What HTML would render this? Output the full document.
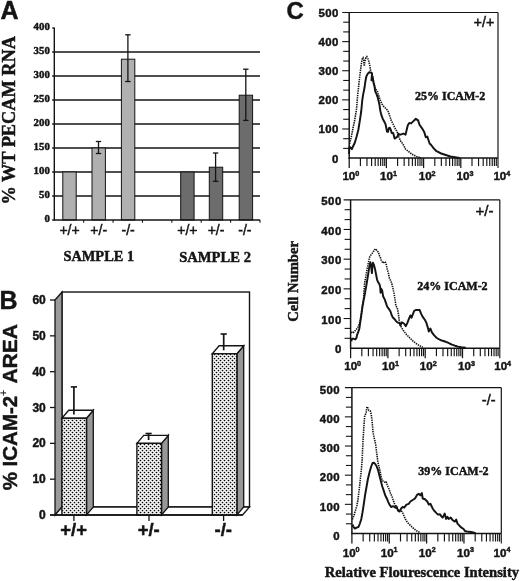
<!DOCTYPE html>
<html><head><meta charset="utf-8"><style>
html,body{margin:0;padding:0;background:#fff;}
svg{display:block;will-change:transform;}
text{stroke:#141414;stroke-width:0.45px;paint-order:stroke;}
</style></head><body>
<svg width="520" height="581" viewBox="0 0 520 581">
<rect width="520" height="581" fill="#fff"/>
<text x="0.50" y="19.00" font-family='"Liberation Sans", sans-serif' font-size="25" font-weight="bold" text-anchor="start" fill="#141414" >A</text>
<line x1="52.20" y1="196.00" x2="260.00" y2="196.00" stroke="#141414" stroke-width="1.3" />
<line x1="52.20" y1="172.00" x2="260.00" y2="172.00" stroke="#141414" stroke-width="1.3" />
<line x1="52.20" y1="148.00" x2="260.00" y2="148.00" stroke="#141414" stroke-width="1.3" />
<line x1="52.20" y1="124.00" x2="260.00" y2="124.00" stroke="#141414" stroke-width="1.3" />
<line x1="52.20" y1="100.00" x2="260.00" y2="100.00" stroke="#141414" stroke-width="1.3" />
<line x1="52.20" y1="76.00" x2="260.00" y2="76.00" stroke="#141414" stroke-width="1.3" />
<line x1="52.20" y1="52.00" x2="260.00" y2="52.00" stroke="#141414" stroke-width="1.3" />
<line x1="52.20" y1="28.00" x2="54.30" y2="28.00" stroke="#141414" stroke-width="1.3" />
<text x="49.80" y="222.40" font-family='"Liberation Serif", serif' font-size="10.8" font-weight="bold" text-anchor="end" fill="#141414" >0</text>
<text x="49.80" y="198.40" font-family='"Liberation Serif", serif' font-size="10.8" font-weight="bold" text-anchor="end" fill="#141414" >50</text>
<text x="49.80" y="174.40" font-family='"Liberation Serif", serif' font-size="10.8" font-weight="bold" text-anchor="end" fill="#141414" >100</text>
<text x="49.80" y="150.40" font-family='"Liberation Serif", serif' font-size="10.8" font-weight="bold" text-anchor="end" fill="#141414" >150</text>
<text x="49.80" y="126.40" font-family='"Liberation Serif", serif' font-size="10.8" font-weight="bold" text-anchor="end" fill="#141414" >200</text>
<text x="49.80" y="102.40" font-family='"Liberation Serif", serif' font-size="10.8" font-weight="bold" text-anchor="end" fill="#141414" >250</text>
<text x="49.80" y="78.40" font-family='"Liberation Serif", serif' font-size="10.8" font-weight="bold" text-anchor="end" fill="#141414" >300</text>
<text x="49.80" y="54.40" font-family='"Liberation Serif", serif' font-size="10.8" font-weight="bold" text-anchor="end" fill="#141414" >350</text>
<text x="49.80" y="30.40" font-family='"Liberation Serif", serif' font-size="10.8" font-weight="bold" text-anchor="end" fill="#141414" >400</text>
<rect x="62.80" y="172.00" width="13.40" height="48.00" fill="#b0b0b0" stroke="#141414" stroke-width="1.0"/>
<rect x="92.00" y="148.00" width="13.40" height="72.00" fill="#b0b0b0" stroke="#141414" stroke-width="1.0"/>
<rect x="121.40" y="59.20" width="13.40" height="160.80" fill="#b0b0b0" stroke="#141414" stroke-width="1.0"/>
<rect x="180.70" y="172.00" width="13.40" height="48.00" fill="#6c6c6c" stroke="#141414" stroke-width="1.0"/>
<rect x="209.30" y="167.20" width="13.40" height="52.80" fill="#6c6c6c" stroke="#141414" stroke-width="1.0"/>
<rect x="239.20" y="95.20" width="13.40" height="124.80" fill="#6c6c6c" stroke="#141414" stroke-width="1.0"/>
<line x1="98.50" y1="141.50" x2="98.50" y2="153.50" stroke="#141414" stroke-width="1.3" />
<line x1="95.80" y1="141.50" x2="101.20" y2="141.50" stroke="#141414" stroke-width="1.3" />
<line x1="95.80" y1="153.50" x2="101.20" y2="153.50" stroke="#141414" stroke-width="1.3" />
<line x1="127.90" y1="34.80" x2="127.90" y2="81.50" stroke="#141414" stroke-width="1.3" />
<line x1="125.20" y1="34.80" x2="130.60" y2="34.80" stroke="#141414" stroke-width="1.3" />
<line x1="125.20" y1="81.50" x2="130.60" y2="81.50" stroke="#141414" stroke-width="1.3" />
<line x1="215.60" y1="153.00" x2="215.60" y2="181.30" stroke="#141414" stroke-width="1.3" />
<line x1="212.90" y1="153.00" x2="218.30" y2="153.00" stroke="#141414" stroke-width="1.3" />
<line x1="212.90" y1="181.30" x2="218.30" y2="181.30" stroke="#141414" stroke-width="1.3" />
<line x1="245.80" y1="69.20" x2="245.80" y2="120.40" stroke="#141414" stroke-width="1.3" />
<line x1="243.10" y1="69.20" x2="248.50" y2="69.20" stroke="#141414" stroke-width="1.3" />
<line x1="243.10" y1="120.40" x2="248.50" y2="120.40" stroke="#141414" stroke-width="1.3" />
<line x1="54.30" y1="27.50" x2="54.30" y2="220.60" stroke="#141414" stroke-width="1.4" />
<line x1="52.20" y1="220.00" x2="260.00" y2="220.00" stroke="#141414" stroke-width="1.4" />
<line x1="83.69" y1="220.00" x2="83.69" y2="222.80" stroke="#141414" stroke-width="1.1" />
<line x1="113.07" y1="220.00" x2="113.07" y2="222.80" stroke="#141414" stroke-width="1.1" />
<line x1="142.46" y1="220.00" x2="142.46" y2="222.80" stroke="#141414" stroke-width="1.1" />
<line x1="171.84" y1="220.00" x2="171.84" y2="222.80" stroke="#141414" stroke-width="1.1" />
<line x1="201.23" y1="220.00" x2="201.23" y2="222.80" stroke="#141414" stroke-width="1.1" />
<line x1="230.61" y1="220.00" x2="230.61" y2="222.80" stroke="#141414" stroke-width="1.1" />
<line x1="260.00" y1="220.00" x2="260.00" y2="222.80" stroke="#141414" stroke-width="1.1" />
<text x="69.50" y="235.20" font-family='"Liberation Sans", sans-serif' font-size="14" font-weight="normal" text-anchor="middle" fill="#141414" >+/+</text>
<text x="98.70" y="235.20" font-family='"Liberation Sans", sans-serif' font-size="14" font-weight="normal" text-anchor="middle" fill="#141414" >+/-</text>
<text x="128.10" y="235.20" font-family='"Liberation Sans", sans-serif' font-size="14" font-weight="normal" text-anchor="middle" fill="#141414" >-/-</text>
<text x="187.40" y="235.20" font-family='"Liberation Sans", sans-serif' font-size="14" font-weight="normal" text-anchor="middle" fill="#141414" >+/+</text>
<text x="216.00" y="235.20" font-family='"Liberation Sans", sans-serif' font-size="14" font-weight="normal" text-anchor="middle" fill="#141414" >+/-</text>
<text x="244.90" y="235.20" font-family='"Liberation Sans", sans-serif' font-size="14" font-weight="normal" text-anchor="middle" fill="#141414" >-/-</text>
<text x="63.40" y="260.60" font-family='"Liberation Serif", serif' font-size="14.4" font-weight="bold" text-anchor="start" fill="#141414" >SAMPLE 1</text>
<text x="179.20" y="262.20" font-family='"Liberation Serif", serif' font-size="14.6" font-weight="bold" text-anchor="start" fill="#141414" >SAMPLE 2</text>
<text transform="translate(14.9,204.6) rotate(-90)" font-family='"Liberation Serif", serif' font-size="18.3" font-weight="bold" fill="#141414">% WT PECAM RNA</text>
<text x="-0.60" y="308.80" font-family='"Liberation Sans", sans-serif' font-size="25" font-weight="bold" text-anchor="start" fill="#141414" >B</text>
<rect x="62.00" y="292.02" width="187.50" height="214.98" fill="#ffffff" stroke="#141414" stroke-width="1.4"/>
<polygon points="55.00,300.02 62.00,292.02 62.00,507.00 55.00,515.00" fill="#9a9a9a" stroke="#141414" stroke-width="1.3" stroke-linejoin="miter" />
<polygon points="55.00,515.00 62.00,507.00 249.50,507.00 242.50,515.00" fill="#ffffff" stroke="#141414" stroke-width="1.3" stroke-linejoin="miter" />
<line x1="50.00" y1="515.00" x2="55.00" y2="515.00" stroke="#141414" stroke-width="1.3" />
<text x="45.80" y="519.00" font-family='"Liberation Sans", sans-serif' font-size="12" font-weight="bold" text-anchor="end" fill="#141414" >0</text>
<line x1="50.00" y1="479.17" x2="55.00" y2="479.17" stroke="#141414" stroke-width="1.3" />
<text x="45.80" y="483.17" font-family='"Liberation Sans", sans-serif' font-size="12" font-weight="bold" text-anchor="end" fill="#141414" >10</text>
<line x1="50.00" y1="443.34" x2="55.00" y2="443.34" stroke="#141414" stroke-width="1.3" />
<text x="45.80" y="447.34" font-family='"Liberation Sans", sans-serif' font-size="12" font-weight="bold" text-anchor="end" fill="#141414" >20</text>
<line x1="50.00" y1="407.51" x2="55.00" y2="407.51" stroke="#141414" stroke-width="1.3" />
<text x="45.80" y="411.51" font-family='"Liberation Sans", sans-serif' font-size="12" font-weight="bold" text-anchor="end" fill="#141414" >30</text>
<line x1="50.00" y1="371.68" x2="55.00" y2="371.68" stroke="#141414" stroke-width="1.3" />
<text x="45.80" y="375.68" font-family='"Liberation Sans", sans-serif' font-size="12" font-weight="bold" text-anchor="end" fill="#141414" >40</text>
<line x1="50.00" y1="335.85" x2="55.00" y2="335.85" stroke="#141414" stroke-width="1.3" />
<text x="45.80" y="339.85" font-family='"Liberation Sans", sans-serif' font-size="12" font-weight="bold" text-anchor="end" fill="#141414" >50</text>
<line x1="50.00" y1="300.02" x2="55.00" y2="300.02" stroke="#141414" stroke-width="1.3" />
<text x="45.80" y="304.02" font-family='"Liberation Sans", sans-serif' font-size="12" font-weight="bold" text-anchor="end" fill="#141414" >60</text>
<defs><pattern id="dots" x="0" y="0" width="4" height="4" patternUnits="userSpaceOnUse"><rect width="4" height="4" fill="#fff"/><circle cx="0.5" cy="0.5" r="0.85" fill="#000"/><circle cx="2.5" cy="2.5" r="0.85" fill="#000"/><circle cx="4.5" cy="0.5" r="0.85" fill="#000"/><circle cx="0.5" cy="4.5" r="0.85" fill="#000"/><circle cx="4.5" cy="4.5" r="0.85" fill="#000"/></pattern></defs>
<polygon points="86.50,418.26 93.30,410.26 93.30,507.00 86.50,515.00" fill="#979797" stroke="#141414" stroke-width="1.3" stroke-linejoin="miter" />
<polygon points="61.90,418.26 68.70,410.26 93.30,410.26 86.50,418.26" fill="#ffffff" stroke="#141414" stroke-width="1.3" stroke-linejoin="miter" />
<rect x="61.90" y="418.26" width="24.60" height="96.74" fill="url(#dots)" stroke="#141414" stroke-width="1.4"/>
<polygon points="161.50,443.34 168.30,435.34 168.30,507.00 161.50,515.00" fill="#979797" stroke="#141414" stroke-width="1.3" stroke-linejoin="miter" />
<polygon points="136.90,443.34 143.70,435.34 168.30,435.34 161.50,443.34" fill="#ffffff" stroke="#141414" stroke-width="1.3" stroke-linejoin="miter" />
<rect x="136.90" y="443.34" width="24.60" height="71.66" fill="url(#dots)" stroke="#141414" stroke-width="1.4"/>
<polygon points="236.90,353.76 243.70,345.76 243.70,507.00 236.90,515.00" fill="#979797" stroke="#141414" stroke-width="1.3" stroke-linejoin="miter" />
<polygon points="212.30,353.76 219.10,345.76 243.70,345.76 236.90,353.76" fill="#ffffff" stroke="#141414" stroke-width="1.3" stroke-linejoin="miter" />
<rect x="212.30" y="353.76" width="24.60" height="161.24" fill="url(#dots)" stroke="#141414" stroke-width="1.4"/>
<line x1="73.90" y1="386.90" x2="73.90" y2="414.60" stroke="#141414" stroke-width="1.7" />
<line x1="70.80" y1="386.90" x2="77.00" y2="386.90" stroke="#141414" stroke-width="1.6" />
<line x1="148.60" y1="433.50" x2="148.60" y2="440.00" stroke="#141414" stroke-width="1.7" />
<line x1="145.50" y1="433.50" x2="151.70" y2="433.50" stroke="#141414" stroke-width="1.6" />
<line x1="223.70" y1="334.00" x2="223.70" y2="350.30" stroke="#141414" stroke-width="1.7" />
<line x1="220.60" y1="334.00" x2="226.80" y2="334.00" stroke="#141414" stroke-width="1.6" />
<line x1="50.00" y1="515.00" x2="242.50" y2="515.00" stroke="#141414" stroke-width="1.4" />
<line x1="73.90" y1="515.00" x2="73.90" y2="521.00" stroke="#141414" stroke-width="1.3" />
<text x="73.60" y="536.40" font-family='"Liberation Sans", sans-serif' font-size="18.5" font-weight="bold" text-anchor="middle" fill="#141414" >+/+</text>
<line x1="149.00" y1="515.00" x2="149.00" y2="521.00" stroke="#141414" stroke-width="1.3" />
<text x="148.70" y="536.40" font-family='"Liberation Sans", sans-serif' font-size="18.5" font-weight="bold" text-anchor="middle" fill="#141414" >+/-</text>
<line x1="223.60" y1="515.00" x2="223.60" y2="521.00" stroke="#141414" stroke-width="1.3" />
<text x="223.30" y="536.40" font-family='"Liberation Sans", sans-serif' font-size="18.5" font-weight="bold" text-anchor="middle" fill="#141414" >-/-</text>
<text transform="translate(17.4,490.3) rotate(-90)" font-family='"Liberation Sans", sans-serif' font-size="20.5" font-weight="bold" fill="#141414">% ICAM-2</text>
<text transform="translate(6.9,396.0) rotate(-90)" font-family='"Liberation Sans", sans-serif' font-size="10.5" font-weight="normal" fill="#141414" style="stroke-width:0.2px">+</text>
<text transform="translate(17.4,383.6) rotate(-90)" font-family='"Liberation Sans", sans-serif' font-size="21" font-weight="bold" fill="#141414">AREA</text>
<text x="286.50" y="19.20" font-family='"Liberation Sans", sans-serif' font-size="24" font-weight="bold" text-anchor="start" fill="#141414" >C</text>
<line x1="342.20" y1="12.50" x2="498.00" y2="12.50" stroke="#141414" stroke-width="1.2" />
<line x1="498.00" y1="12.50" x2="498.00" y2="158.10" stroke="#141414" stroke-width="1.2" />
<line x1="349.20" y1="12.50" x2="349.20" y2="158.70" stroke="#141414" stroke-width="1.5" />
<line x1="348.60" y1="158.10" x2="498.00" y2="158.10" stroke="#141414" stroke-width="1.5" />
<text x="338.90" y="162.50" font-family='"Liberation Sans", sans-serif' font-size="11.4" font-weight="bold" text-anchor="end" fill="#141414" letter-spacing="0.45">0</text>
<line x1="343.20" y1="148.39" x2="349.20" y2="148.39" stroke="#141414" stroke-width="1.1" />
<line x1="343.20" y1="138.69" x2="349.20" y2="138.69" stroke="#141414" stroke-width="1.1" />
<line x1="342.20" y1="128.98" x2="349.20" y2="128.98" stroke="#141414" stroke-width="1.1" />
<text x="338.90" y="133.38" font-family='"Liberation Sans", sans-serif' font-size="11.4" font-weight="bold" text-anchor="end" fill="#141414" letter-spacing="0.45">100</text>
<line x1="343.20" y1="119.27" x2="349.20" y2="119.27" stroke="#141414" stroke-width="1.1" />
<line x1="343.20" y1="109.57" x2="349.20" y2="109.57" stroke="#141414" stroke-width="1.1" />
<line x1="342.20" y1="99.86" x2="349.20" y2="99.86" stroke="#141414" stroke-width="1.1" />
<text x="338.90" y="104.26" font-family='"Liberation Sans", sans-serif' font-size="11.4" font-weight="bold" text-anchor="end" fill="#141414" letter-spacing="0.45">200</text>
<line x1="343.20" y1="90.15" x2="349.20" y2="90.15" stroke="#141414" stroke-width="1.1" />
<line x1="343.20" y1="80.45" x2="349.20" y2="80.45" stroke="#141414" stroke-width="1.1" />
<line x1="342.20" y1="70.74" x2="349.20" y2="70.74" stroke="#141414" stroke-width="1.1" />
<text x="338.90" y="75.14" font-family='"Liberation Sans", sans-serif' font-size="11.4" font-weight="bold" text-anchor="end" fill="#141414" letter-spacing="0.45">300</text>
<line x1="343.20" y1="61.03" x2="349.20" y2="61.03" stroke="#141414" stroke-width="1.1" />
<line x1="343.20" y1="51.33" x2="349.20" y2="51.33" stroke="#141414" stroke-width="1.1" />
<line x1="342.20" y1="41.62" x2="349.20" y2="41.62" stroke="#141414" stroke-width="1.1" />
<text x="338.90" y="46.02" font-family='"Liberation Sans", sans-serif' font-size="11.4" font-weight="bold" text-anchor="end" fill="#141414" letter-spacing="0.45">400</text>
<line x1="343.20" y1="31.91" x2="349.20" y2="31.91" stroke="#141414" stroke-width="1.1" />
<line x1="343.20" y1="22.21" x2="349.20" y2="22.21" stroke="#141414" stroke-width="1.1" />
<text x="338.90" y="16.90" font-family='"Liberation Sans", sans-serif' font-size="11.4" font-weight="bold" text-anchor="end" fill="#141414" letter-spacing="0.45">500</text>
<line x1="349.20" y1="158.10" x2="349.20" y2="168.10" stroke="#141414" stroke-width="1.25" />
<line x1="360.40" y1="158.10" x2="360.40" y2="166.10" stroke="#141414" stroke-width="1.15" />
<line x1="366.95" y1="158.10" x2="366.95" y2="166.10" stroke="#141414" stroke-width="1.15" />
<line x1="371.60" y1="158.10" x2="371.60" y2="166.10" stroke="#141414" stroke-width="1.15" />
<line x1="375.20" y1="158.10" x2="375.20" y2="166.10" stroke="#141414" stroke-width="1.15" />
<line x1="378.15" y1="158.10" x2="378.15" y2="166.10" stroke="#141414" stroke-width="1.15" />
<line x1="380.64" y1="158.10" x2="380.64" y2="166.10" stroke="#141414" stroke-width="1.15" />
<line x1="382.79" y1="158.10" x2="382.79" y2="166.10" stroke="#141414" stroke-width="1.15" />
<line x1="384.70" y1="158.10" x2="384.70" y2="166.10" stroke="#141414" stroke-width="1.15" />
<line x1="386.40" y1="158.10" x2="386.40" y2="168.10" stroke="#141414" stroke-width="1.25" />
<line x1="397.60" y1="158.10" x2="397.60" y2="166.10" stroke="#141414" stroke-width="1.15" />
<line x1="404.15" y1="158.10" x2="404.15" y2="166.10" stroke="#141414" stroke-width="1.15" />
<line x1="408.80" y1="158.10" x2="408.80" y2="166.10" stroke="#141414" stroke-width="1.15" />
<line x1="412.40" y1="158.10" x2="412.40" y2="166.10" stroke="#141414" stroke-width="1.15" />
<line x1="415.35" y1="158.10" x2="415.35" y2="166.10" stroke="#141414" stroke-width="1.15" />
<line x1="417.84" y1="158.10" x2="417.84" y2="166.10" stroke="#141414" stroke-width="1.15" />
<line x1="419.99" y1="158.10" x2="419.99" y2="166.10" stroke="#141414" stroke-width="1.15" />
<line x1="421.90" y1="158.10" x2="421.90" y2="166.10" stroke="#141414" stroke-width="1.15" />
<line x1="423.60" y1="158.10" x2="423.60" y2="168.10" stroke="#141414" stroke-width="1.25" />
<line x1="434.80" y1="158.10" x2="434.80" y2="166.10" stroke="#141414" stroke-width="1.15" />
<line x1="441.35" y1="158.10" x2="441.35" y2="166.10" stroke="#141414" stroke-width="1.15" />
<line x1="446.00" y1="158.10" x2="446.00" y2="166.10" stroke="#141414" stroke-width="1.15" />
<line x1="449.60" y1="158.10" x2="449.60" y2="166.10" stroke="#141414" stroke-width="1.15" />
<line x1="452.55" y1="158.10" x2="452.55" y2="166.10" stroke="#141414" stroke-width="1.15" />
<line x1="455.04" y1="158.10" x2="455.04" y2="166.10" stroke="#141414" stroke-width="1.15" />
<line x1="457.19" y1="158.10" x2="457.19" y2="166.10" stroke="#141414" stroke-width="1.15" />
<line x1="459.10" y1="158.10" x2="459.10" y2="166.10" stroke="#141414" stroke-width="1.15" />
<line x1="460.80" y1="158.10" x2="460.80" y2="168.10" stroke="#141414" stroke-width="1.25" />
<line x1="472.00" y1="158.10" x2="472.00" y2="166.10" stroke="#141414" stroke-width="1.15" />
<line x1="478.55" y1="158.10" x2="478.55" y2="166.10" stroke="#141414" stroke-width="1.15" />
<line x1="483.20" y1="158.10" x2="483.20" y2="166.10" stroke="#141414" stroke-width="1.15" />
<line x1="486.80" y1="158.10" x2="486.80" y2="166.10" stroke="#141414" stroke-width="1.15" />
<line x1="489.75" y1="158.10" x2="489.75" y2="166.10" stroke="#141414" stroke-width="1.15" />
<line x1="492.24" y1="158.10" x2="492.24" y2="166.10" stroke="#141414" stroke-width="1.15" />
<line x1="494.39" y1="158.10" x2="494.39" y2="166.10" stroke="#141414" stroke-width="1.15" />
<line x1="496.30" y1="158.10" x2="496.30" y2="166.10" stroke="#141414" stroke-width="1.15" />
<line x1="498.00" y1="158.10" x2="498.00" y2="168.10" stroke="#141414" stroke-width="1.1" />
<text x="342.40" y="180.40" font-family='"Liberation Sans", sans-serif' font-size="11.6" font-weight="bold" fill="#141414">10<tspan dy="-4.3" font-size="7.2">0</tspan></text>
<text x="380.10" y="180.40" font-family='"Liberation Sans", sans-serif' font-size="11.6" font-weight="bold" fill="#141414">10<tspan dy="-4.3" font-size="7.2">1</tspan></text>
<text x="418.70" y="180.40" font-family='"Liberation Sans", sans-serif' font-size="11.6" font-weight="bold" fill="#141414">10<tspan dy="-4.3" font-size="7.2">2</tspan></text>
<text x="456.60" y="180.40" font-family='"Liberation Sans", sans-serif' font-size="11.6" font-weight="bold" fill="#141414">10<tspan dy="-4.3" font-size="7.2">3</tspan></text>
<text x="493.40" y="180.40" font-family='"Liberation Sans", sans-serif' font-size="11.6" font-weight="bold" fill="#141414">10<tspan dy="-4.3" font-size="7.2">4</tspan></text>
<text x="494.50" y="27.00" font-family='"Liberation Sans", sans-serif' font-size="14.5" font-weight="normal" text-anchor="end" fill="#141414" >+/+</text>
<text x="415.00" y="99.60" font-family='"Liberation Serif", serif' font-size="12" font-weight="bold" text-anchor="start" fill="#141414" >25% ICAM-2</text>
<polyline points="349.6,143.8 351.3,136.9 353.1,127.7 354.8,119.6 356.5,109.2 357.8,93.5 358.8,85.0 359.7,76.5 360.7,68.9 361.6,62.3 362.4,58.0 363.0,57.6 363.7,60.4 364.3,66.1 364.9,61.3 365.9,57.6 366.8,56.6 367.8,58.5 369.0,61.8 369.9,66.1 370.6,70.8 372.3,75.7 374.3,84.7 375.3,88.8 377.2,90.7 379.4,97.8 380.8,101.6 382.3,104.5 383.7,106.4 385.6,108.3 387.0,109.7 388.4,112.0 389.4,114.9 390.3,117.7 391.3,120.6 392.7,123.4 394.1,126.3 395.5,129.1 396.9,131.5 397.9,133.8 398.8,136.7 400.3,140.5 401.7,142.3 403.6,145.2 405.5,149.0 408.1,151.2 411.9,154.2 416.5,156.5 421.2,158.0" fill="none" stroke="#141414" stroke-width="1.6" stroke-dasharray="1.4 0.9"/>
<polyline points="349.0,154.0 349.4,147.0 350.2,147.3 351.9,149.0 353.1,146.2 354.8,142.7 356.5,136.9 358.3,130.0 359.8,120.8 361.2,111.5 362.3,100.0 363.0,95.4 364.5,87.8 365.4,81.2 366.3,76.5 367.8,73.6 369.2,72.2 370.6,72.7 372.0,73.2 371.5,80.3 372.5,76.5 373.4,82.2 374.4,85.9 375.3,91.6 376.3,93.5 377.7,97.3 378.6,101.1 379.4,104.5 380.4,111.1 381.3,114.9 382.7,118.7 384.2,121.5 385.6,124.4 387.0,131.5 387.9,131.9 388.9,128.1 389.8,127.7 390.8,130.0 391.7,132.9 393.2,132.9 394.6,138.6 396.0,137.6 397.4,136.7 398.4,133.8 399.8,134.8 401.2,134.3 402.6,133.8 404.0,133.8 405.5,134.8 406.4,131.0 407.8,125.3 409.3,122.9 411.1,123.4 414.2,120.4 415.8,118.8 418.1,120.4 419.6,125.0 421.9,128.1 424.2,131.9 425.8,137.3 427.3,136.5 429.6,143.5 431.2,145.0 433.5,148.1 436.5,151.2 441.2,153.5 445.8,155.0 450.4,156.5 455.0,157.3 459.6,158.0" fill="none" stroke="#141414" stroke-width="1.95" stroke-linejoin="round"/>
<line x1="343.60" y1="199.80" x2="499.80" y2="199.80" stroke="#141414" stroke-width="1.2" />
<line x1="499.80" y1="199.80" x2="499.80" y2="348.20" stroke="#141414" stroke-width="1.2" />
<line x1="350.60" y1="199.80" x2="350.60" y2="348.80" stroke="#141414" stroke-width="1.5" />
<line x1="350.00" y1="348.20" x2="499.80" y2="348.20" stroke="#141414" stroke-width="1.5" />
<text x="341.70" y="353.40" font-family='"Liberation Sans", sans-serif' font-size="11.4" font-weight="bold" text-anchor="end" fill="#141414" letter-spacing="0.45">0</text>
<line x1="344.60" y1="338.31" x2="350.60" y2="338.31" stroke="#141414" stroke-width="1.1" />
<line x1="344.60" y1="328.41" x2="350.60" y2="328.41" stroke="#141414" stroke-width="1.1" />
<line x1="343.60" y1="318.52" x2="350.60" y2="318.52" stroke="#141414" stroke-width="1.1" />
<text x="341.70" y="323.72" font-family='"Liberation Sans", sans-serif' font-size="11.4" font-weight="bold" text-anchor="end" fill="#141414" letter-spacing="0.45">100</text>
<line x1="344.60" y1="308.63" x2="350.60" y2="308.63" stroke="#141414" stroke-width="1.1" />
<line x1="344.60" y1="298.73" x2="350.60" y2="298.73" stroke="#141414" stroke-width="1.1" />
<line x1="343.60" y1="288.84" x2="350.60" y2="288.84" stroke="#141414" stroke-width="1.1" />
<text x="341.70" y="294.04" font-family='"Liberation Sans", sans-serif' font-size="11.4" font-weight="bold" text-anchor="end" fill="#141414" letter-spacing="0.45">200</text>
<line x1="344.60" y1="278.95" x2="350.60" y2="278.95" stroke="#141414" stroke-width="1.1" />
<line x1="344.60" y1="269.05" x2="350.60" y2="269.05" stroke="#141414" stroke-width="1.1" />
<line x1="343.60" y1="259.16" x2="350.60" y2="259.16" stroke="#141414" stroke-width="1.1" />
<text x="341.70" y="264.36" font-family='"Liberation Sans", sans-serif' font-size="11.4" font-weight="bold" text-anchor="end" fill="#141414" letter-spacing="0.45">300</text>
<line x1="344.60" y1="249.27" x2="350.60" y2="249.27" stroke="#141414" stroke-width="1.1" />
<line x1="344.60" y1="239.37" x2="350.60" y2="239.37" stroke="#141414" stroke-width="1.1" />
<line x1="343.60" y1="229.48" x2="350.60" y2="229.48" stroke="#141414" stroke-width="1.1" />
<text x="341.70" y="234.68" font-family='"Liberation Sans", sans-serif' font-size="11.4" font-weight="bold" text-anchor="end" fill="#141414" letter-spacing="0.45">400</text>
<line x1="344.60" y1="219.59" x2="350.60" y2="219.59" stroke="#141414" stroke-width="1.1" />
<line x1="344.60" y1="209.69" x2="350.60" y2="209.69" stroke="#141414" stroke-width="1.1" />
<text x="341.70" y="205.00" font-family='"Liberation Sans", sans-serif' font-size="11.4" font-weight="bold" text-anchor="end" fill="#141414" letter-spacing="0.45">500</text>
<line x1="350.60" y1="348.20" x2="350.60" y2="358.20" stroke="#141414" stroke-width="1.25" />
<line x1="361.83" y1="348.20" x2="361.83" y2="356.20" stroke="#141414" stroke-width="1.15" />
<line x1="368.40" y1="348.20" x2="368.40" y2="356.20" stroke="#141414" stroke-width="1.15" />
<line x1="373.06" y1="348.20" x2="373.06" y2="356.20" stroke="#141414" stroke-width="1.15" />
<line x1="376.67" y1="348.20" x2="376.67" y2="356.20" stroke="#141414" stroke-width="1.15" />
<line x1="379.63" y1="348.20" x2="379.63" y2="356.20" stroke="#141414" stroke-width="1.15" />
<line x1="382.12" y1="348.20" x2="382.12" y2="356.20" stroke="#141414" stroke-width="1.15" />
<line x1="384.29" y1="348.20" x2="384.29" y2="356.20" stroke="#141414" stroke-width="1.15" />
<line x1="386.19" y1="348.20" x2="386.19" y2="356.20" stroke="#141414" stroke-width="1.15" />
<line x1="387.90" y1="348.20" x2="387.90" y2="358.20" stroke="#141414" stroke-width="1.25" />
<line x1="399.13" y1="348.20" x2="399.13" y2="356.20" stroke="#141414" stroke-width="1.15" />
<line x1="405.70" y1="348.20" x2="405.70" y2="356.20" stroke="#141414" stroke-width="1.15" />
<line x1="410.36" y1="348.20" x2="410.36" y2="356.20" stroke="#141414" stroke-width="1.15" />
<line x1="413.97" y1="348.20" x2="413.97" y2="356.20" stroke="#141414" stroke-width="1.15" />
<line x1="416.93" y1="348.20" x2="416.93" y2="356.20" stroke="#141414" stroke-width="1.15" />
<line x1="419.42" y1="348.20" x2="419.42" y2="356.20" stroke="#141414" stroke-width="1.15" />
<line x1="421.59" y1="348.20" x2="421.59" y2="356.20" stroke="#141414" stroke-width="1.15" />
<line x1="423.49" y1="348.20" x2="423.49" y2="356.20" stroke="#141414" stroke-width="1.15" />
<line x1="425.20" y1="348.20" x2="425.20" y2="358.20" stroke="#141414" stroke-width="1.25" />
<line x1="436.43" y1="348.20" x2="436.43" y2="356.20" stroke="#141414" stroke-width="1.15" />
<line x1="443.00" y1="348.20" x2="443.00" y2="356.20" stroke="#141414" stroke-width="1.15" />
<line x1="447.66" y1="348.20" x2="447.66" y2="356.20" stroke="#141414" stroke-width="1.15" />
<line x1="451.27" y1="348.20" x2="451.27" y2="356.20" stroke="#141414" stroke-width="1.15" />
<line x1="454.23" y1="348.20" x2="454.23" y2="356.20" stroke="#141414" stroke-width="1.15" />
<line x1="456.72" y1="348.20" x2="456.72" y2="356.20" stroke="#141414" stroke-width="1.15" />
<line x1="458.89" y1="348.20" x2="458.89" y2="356.20" stroke="#141414" stroke-width="1.15" />
<line x1="460.79" y1="348.20" x2="460.79" y2="356.20" stroke="#141414" stroke-width="1.15" />
<line x1="462.50" y1="348.20" x2="462.50" y2="358.20" stroke="#141414" stroke-width="1.25" />
<line x1="473.73" y1="348.20" x2="473.73" y2="356.20" stroke="#141414" stroke-width="1.15" />
<line x1="480.30" y1="348.20" x2="480.30" y2="356.20" stroke="#141414" stroke-width="1.15" />
<line x1="484.96" y1="348.20" x2="484.96" y2="356.20" stroke="#141414" stroke-width="1.15" />
<line x1="488.57" y1="348.20" x2="488.57" y2="356.20" stroke="#141414" stroke-width="1.15" />
<line x1="491.53" y1="348.20" x2="491.53" y2="356.20" stroke="#141414" stroke-width="1.15" />
<line x1="494.02" y1="348.20" x2="494.02" y2="356.20" stroke="#141414" stroke-width="1.15" />
<line x1="496.19" y1="348.20" x2="496.19" y2="356.20" stroke="#141414" stroke-width="1.15" />
<line x1="498.09" y1="348.20" x2="498.09" y2="356.20" stroke="#141414" stroke-width="1.15" />
<line x1="499.80" y1="348.20" x2="499.80" y2="358.20" stroke="#141414" stroke-width="1.1" />
<text x="344.20" y="370.00" font-family='"Liberation Sans", sans-serif' font-size="11.6" font-weight="bold" fill="#141414">10<tspan dy="-4.3" font-size="7.2">0</tspan></text>
<text x="382.10" y="370.00" font-family='"Liberation Sans", sans-serif' font-size="11.6" font-weight="bold" fill="#141414">10<tspan dy="-4.3" font-size="7.2">1</tspan></text>
<text x="419.80" y="370.00" font-family='"Liberation Sans", sans-serif' font-size="11.6" font-weight="bold" fill="#141414">10<tspan dy="-4.3" font-size="7.2">2</tspan></text>
<text x="458.10" y="370.00" font-family='"Liberation Sans", sans-serif' font-size="11.6" font-weight="bold" fill="#141414">10<tspan dy="-4.3" font-size="7.2">3</tspan></text>
<text x="494.20" y="370.00" font-family='"Liberation Sans", sans-serif' font-size="11.6" font-weight="bold" fill="#141414">10<tspan dy="-4.3" font-size="7.2">4</tspan></text>
<text x="493.60" y="216.30" font-family='"Liberation Sans", sans-serif' font-size="15.2" font-weight="normal" text-anchor="end" fill="#141414" >+/-</text>
<text x="417.30" y="290.00" font-family='"Liberation Serif", serif' font-size="12" font-weight="bold" text-anchor="start" fill="#141414" >24% ICAM-2</text>
<polyline points="351.3,331.9 352.5,333.1 354.2,331.9 356.0,329.6 357.7,327.9 358.8,325.0 360.0,321.5 361.2,314.6 362.3,306.5 363.5,299.6 364.1,289.6 364.6,283.4 365.7,277.2 366.7,271.0 367.7,265.8 368.8,260.7 369.8,256.5 371.3,254.5 372.9,252.4 374.4,249.8 375.5,248.8 377.0,250.8 378.6,252.4 379.6,256.0 380.6,258.1 381.2,260.1 382.2,261.7 383.2,263.2 384.3,261.7 385.3,262.2 386.3,264.8 387.4,270.0 388.4,273.1 389.4,278.2 391.0,281.3 392.0,284.4 393.0,288.6 394.1,293.7 395.2,300.8 395.8,305.4 397.5,308.8 398.4,314.0 399.3,320.8 401.2,326.9 403.5,330.8 406.5,334.6 409.6,337.7 412.7,340.8 416.5,343.8 419.6,345.7 422.7,347.2" fill="none" stroke="#141414" stroke-width="1.6" stroke-dasharray="1.4 0.9"/>
<polyline points="351.3,341.2 351.9,338.8 353.7,338.8 355.4,339.4 356.5,337.7 357.1,334.8 358.3,331.9 359.4,328.5 360.0,323.8 360.9,318.1 361.7,312.3 362.5,306.5 363.5,300.8 365.1,292.7 366.7,283.4 368.2,274.1 369.3,266.9 370.3,262.2 371.3,267.4 371.9,273.1 372.4,265.8 372.9,262.7 373.9,264.8 375.0,268.9 376.0,274.1 377.0,279.3 378.1,282.4 379.1,283.4 380.1,286.5 380.6,292.7 381.2,288.6 382.2,290.6 383.1,296.2 384.8,299.6 386.0,303.1 387.1,306.5 388.8,308.8 390.6,311.7 391.7,315.2 392.9,317.5 394.6,319.2 396.3,321.5 398.1,322.7 399.6,323.1 400.4,325.4 401.9,322.3 404.2,323.8 405.8,326.2 407.3,323.1 408.8,319.2 410.4,315.4 411.6,317.7 412.7,314.6 414.2,310.8 415.8,310.0 418.1,310.0 419.6,310.0 421.2,313.8 422.7,316.9 425.0,320.0 426.5,323.1 428.1,328.5 428.8,331.5 430.4,328.5 431.9,332.3 434.2,335.4 436.5,337.7 438.8,339.2 440.4,340.0 442.7,340.8 445.0,341.5 447.3,342.3 449.6,343.5 451.9,344.6 455.0,345.7 458.1,346.6 461.2,347.2 465.8,347.7" fill="none" stroke="#141414" stroke-width="1.95" stroke-linejoin="round"/>
<line x1="344.90" y1="387.70" x2="501.30" y2="387.70" stroke="#141414" stroke-width="1.2" />
<line x1="501.30" y1="387.70" x2="501.30" y2="533.50" stroke="#141414" stroke-width="1.2" />
<line x1="351.90" y1="387.70" x2="351.90" y2="534.10" stroke="#141414" stroke-width="1.5" />
<line x1="351.30" y1="533.50" x2="501.30" y2="533.50" stroke="#141414" stroke-width="1.5" />
<text x="340.00" y="539.70" font-family='"Liberation Sans", sans-serif' font-size="11.4" font-weight="bold" text-anchor="end" fill="#141414" letter-spacing="0.45">0</text>
<line x1="345.90" y1="523.78" x2="351.90" y2="523.78" stroke="#141414" stroke-width="1.1" />
<line x1="345.90" y1="514.06" x2="351.90" y2="514.06" stroke="#141414" stroke-width="1.1" />
<line x1="344.90" y1="504.34" x2="351.90" y2="504.34" stroke="#141414" stroke-width="1.1" />
<text x="340.00" y="510.54" font-family='"Liberation Sans", sans-serif' font-size="11.4" font-weight="bold" text-anchor="end" fill="#141414" letter-spacing="0.45">100</text>
<line x1="345.90" y1="494.62" x2="351.90" y2="494.62" stroke="#141414" stroke-width="1.1" />
<line x1="345.90" y1="484.90" x2="351.90" y2="484.90" stroke="#141414" stroke-width="1.1" />
<line x1="344.90" y1="475.18" x2="351.90" y2="475.18" stroke="#141414" stroke-width="1.1" />
<text x="340.00" y="481.38" font-family='"Liberation Sans", sans-serif' font-size="11.4" font-weight="bold" text-anchor="end" fill="#141414" letter-spacing="0.45">200</text>
<line x1="345.90" y1="465.46" x2="351.90" y2="465.46" stroke="#141414" stroke-width="1.1" />
<line x1="345.90" y1="455.74" x2="351.90" y2="455.74" stroke="#141414" stroke-width="1.1" />
<line x1="344.90" y1="446.02" x2="351.90" y2="446.02" stroke="#141414" stroke-width="1.1" />
<text x="340.00" y="452.22" font-family='"Liberation Sans", sans-serif' font-size="11.4" font-weight="bold" text-anchor="end" fill="#141414" letter-spacing="0.45">300</text>
<line x1="345.90" y1="436.30" x2="351.90" y2="436.30" stroke="#141414" stroke-width="1.1" />
<line x1="345.90" y1="426.58" x2="351.90" y2="426.58" stroke="#141414" stroke-width="1.1" />
<line x1="344.90" y1="416.86" x2="351.90" y2="416.86" stroke="#141414" stroke-width="1.1" />
<text x="340.00" y="423.06" font-family='"Liberation Sans", sans-serif' font-size="11.4" font-weight="bold" text-anchor="end" fill="#141414" letter-spacing="0.45">400</text>
<line x1="345.90" y1="407.14" x2="351.90" y2="407.14" stroke="#141414" stroke-width="1.1" />
<line x1="345.90" y1="397.42" x2="351.90" y2="397.42" stroke="#141414" stroke-width="1.1" />
<text x="340.00" y="393.90" font-family='"Liberation Sans", sans-serif' font-size="11.4" font-weight="bold" text-anchor="end" fill="#141414" letter-spacing="0.45">500</text>
<line x1="351.90" y1="533.50" x2="351.90" y2="543.50" stroke="#141414" stroke-width="1.25" />
<line x1="363.14" y1="533.50" x2="363.14" y2="541.50" stroke="#141414" stroke-width="1.15" />
<line x1="369.72" y1="533.50" x2="369.72" y2="541.50" stroke="#141414" stroke-width="1.15" />
<line x1="374.39" y1="533.50" x2="374.39" y2="541.50" stroke="#141414" stroke-width="1.15" />
<line x1="378.01" y1="533.50" x2="378.01" y2="541.50" stroke="#141414" stroke-width="1.15" />
<line x1="380.96" y1="533.50" x2="380.96" y2="541.50" stroke="#141414" stroke-width="1.15" />
<line x1="383.46" y1="533.50" x2="383.46" y2="541.50" stroke="#141414" stroke-width="1.15" />
<line x1="385.63" y1="533.50" x2="385.63" y2="541.50" stroke="#141414" stroke-width="1.15" />
<line x1="387.54" y1="533.50" x2="387.54" y2="541.50" stroke="#141414" stroke-width="1.15" />
<line x1="389.25" y1="533.50" x2="389.25" y2="543.50" stroke="#141414" stroke-width="1.25" />
<line x1="400.49" y1="533.50" x2="400.49" y2="541.50" stroke="#141414" stroke-width="1.15" />
<line x1="407.07" y1="533.50" x2="407.07" y2="541.50" stroke="#141414" stroke-width="1.15" />
<line x1="411.74" y1="533.50" x2="411.74" y2="541.50" stroke="#141414" stroke-width="1.15" />
<line x1="415.36" y1="533.50" x2="415.36" y2="541.50" stroke="#141414" stroke-width="1.15" />
<line x1="418.31" y1="533.50" x2="418.31" y2="541.50" stroke="#141414" stroke-width="1.15" />
<line x1="420.81" y1="533.50" x2="420.81" y2="541.50" stroke="#141414" stroke-width="1.15" />
<line x1="422.98" y1="533.50" x2="422.98" y2="541.50" stroke="#141414" stroke-width="1.15" />
<line x1="424.89" y1="533.50" x2="424.89" y2="541.50" stroke="#141414" stroke-width="1.15" />
<line x1="426.60" y1="533.50" x2="426.60" y2="543.50" stroke="#141414" stroke-width="1.25" />
<line x1="437.84" y1="533.50" x2="437.84" y2="541.50" stroke="#141414" stroke-width="1.15" />
<line x1="444.42" y1="533.50" x2="444.42" y2="541.50" stroke="#141414" stroke-width="1.15" />
<line x1="449.09" y1="533.50" x2="449.09" y2="541.50" stroke="#141414" stroke-width="1.15" />
<line x1="452.71" y1="533.50" x2="452.71" y2="541.50" stroke="#141414" stroke-width="1.15" />
<line x1="455.66" y1="533.50" x2="455.66" y2="541.50" stroke="#141414" stroke-width="1.15" />
<line x1="458.16" y1="533.50" x2="458.16" y2="541.50" stroke="#141414" stroke-width="1.15" />
<line x1="460.33" y1="533.50" x2="460.33" y2="541.50" stroke="#141414" stroke-width="1.15" />
<line x1="462.24" y1="533.50" x2="462.24" y2="541.50" stroke="#141414" stroke-width="1.15" />
<line x1="463.95" y1="533.50" x2="463.95" y2="543.50" stroke="#141414" stroke-width="1.25" />
<line x1="475.19" y1="533.50" x2="475.19" y2="541.50" stroke="#141414" stroke-width="1.15" />
<line x1="481.77" y1="533.50" x2="481.77" y2="541.50" stroke="#141414" stroke-width="1.15" />
<line x1="486.44" y1="533.50" x2="486.44" y2="541.50" stroke="#141414" stroke-width="1.15" />
<line x1="490.06" y1="533.50" x2="490.06" y2="541.50" stroke="#141414" stroke-width="1.15" />
<line x1="493.01" y1="533.50" x2="493.01" y2="541.50" stroke="#141414" stroke-width="1.15" />
<line x1="495.51" y1="533.50" x2="495.51" y2="541.50" stroke="#141414" stroke-width="1.15" />
<line x1="497.68" y1="533.50" x2="497.68" y2="541.50" stroke="#141414" stroke-width="1.15" />
<line x1="499.59" y1="533.50" x2="499.59" y2="541.50" stroke="#141414" stroke-width="1.15" />
<line x1="501.30" y1="533.50" x2="501.30" y2="543.50" stroke="#141414" stroke-width="1.1" />
<text x="342.70" y="556.70" font-family='"Liberation Sans", sans-serif' font-size="11.6" font-weight="bold" fill="#141414">10<tspan dy="-4.3" font-size="7.2">0</tspan></text>
<text x="380.70" y="556.70" font-family='"Liberation Sans", sans-serif' font-size="11.6" font-weight="bold" fill="#141414">10<tspan dy="-4.3" font-size="7.2">1</tspan></text>
<text x="418.80" y="556.70" font-family='"Liberation Sans", sans-serif' font-size="11.6" font-weight="bold" fill="#141414">10<tspan dy="-4.3" font-size="7.2">2</tspan></text>
<text x="457.10" y="556.70" font-family='"Liberation Sans", sans-serif' font-size="11.6" font-weight="bold" fill="#141414">10<tspan dy="-4.3" font-size="7.2">3</tspan></text>
<text x="493.60" y="556.70" font-family='"Liberation Sans", sans-serif' font-size="11.6" font-weight="bold" fill="#141414">10<tspan dy="-4.3" font-size="7.2">4</tspan></text>
<text x="495.50" y="404.80" font-family='"Liberation Sans", sans-serif' font-size="14.5" font-weight="normal" text-anchor="end" fill="#141414" >-/-</text>
<text x="418.30" y="475.00" font-family='"Liberation Serif", serif' font-size="12" font-weight="bold" text-anchor="start" fill="#141414" >39% ICAM-2</text>
<polyline points="352.3,519.4 353.2,517.5 354.4,514.0 355.6,510.0 356.9,505.5 357.9,500.0 358.8,493.0 359.7,485.0 360.6,477.0 361.4,469.0 362.1,461.0 362.6,449.6 363.1,439.3 363.6,431.0 364.1,423.8 364.6,416.5 365.1,415.5 366.2,412.4 366.9,406.7 367.7,407.7 368.8,410.3 370.3,410.8 371.3,414.5 371.9,419.6 372.4,424.8 372.9,431.0 373.9,437.2 375.0,441.3 375.8,445.5 376.5,451.7 377.5,458.9 377.9,462.3 379.4,468.2 380.9,475.5 382.3,480.6 384.5,482.1 386.0,481.3 387.4,485.7 388.9,488.7 390.4,493.0 391.8,496.0 393.3,500.4 394.8,504.8 396.2,507.7 398.4,510.6 400.6,510.6 401.9,511.5 403.5,514.6 405.0,518.5 407.3,522.3 409.6,524.6 411.9,526.9 414.2,528.9 416.5,530.8 419.6,532.3" fill="none" stroke="#141414" stroke-width="1.6" stroke-dasharray="1.4 0.9"/>
<polyline points="352.3,524.5 353.5,526.8 354.9,528.6 356.5,527.6 358.5,527.0 359.9,523.5 361.3,519.0 362.5,512.5 363.8,504.0 365.1,495.0 366.5,487.0 367.9,479.0 369.6,472.0 371.2,466.5 372.6,463.0 373.8,462.8 375.0,463.8 376.5,466.0 377.9,469.6 379.4,475.5 380.9,481.3 382.3,486.5 383.8,490.9 385.2,495.2 386.7,498.2 388.2,501.8 389.6,504.8 391.1,507.0 393.3,506.2 395.5,507.7 396.5,506.2 398.1,510.8 399.6,511.5 401.2,508.5 402.7,506.9 404.2,507.7 406.5,504.6 408.8,503.8 410.4,501.5 412.7,500.0 415.0,498.5 417.3,494.6 418.8,493.8 420.4,495.4 421.9,493.1 422.7,498.5 425.0,499.2 427.3,501.5 428.8,504.6 430.4,503.8 432.7,508.5 434.2,510.8 436.5,513.1 438.1,514.6 440.0,514.2 441.3,516.2 442.7,517.6 444.7,513.6 446.1,518.9 447.4,516.9 448.7,518.9 450.8,517.6 452.8,520.3 454.8,521.6 456.2,519.6 457.5,523.6 459.5,525.7 461.5,527.7 463.6,529.0 464.9,531.0 466.9,531.5 471.0,532.0 474.3,532.8 475.7,533.4" fill="none" stroke="#141414" stroke-width="1.95" stroke-linejoin="round"/>
<text transform="translate(297.7,321.8) rotate(-90)" font-family='"Liberation Serif", serif' font-size="14.6" font-weight="bold" fill="#141414">Cell Number</text>
<text x="324.80" y="576.50" font-family='"Liberation Serif", serif' font-size="14.6" font-weight="bold" text-anchor="start" fill="#141414" >Relative Flourescence Intensity</text>
</svg>
</body></html>
